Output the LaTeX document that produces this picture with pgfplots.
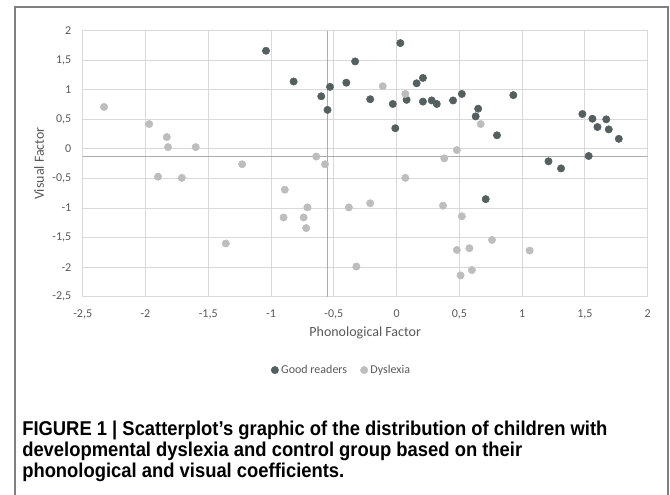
\documentclass[border=0pt]{standalone}
\usepackage{pgfplots}
\pgfplotsset{compat=1.18}
\usepackage{fontspec}
\setmainfont{Carlito}
\newfontfamily\capfont[FakeStretch=0.92]{Liberation Sans}

\definecolor{good}{HTML}{54605F}
\definecolor{dys}{HTML}{BDBDBD}
\definecolor{gridc}{HTML}{D9D9D9}
\definecolor{txt}{HTML}{595959}
\definecolor{meanc}{HTML}{ABABAB}
\definecolor{framec}{HTML}{7F7F7F}

% points
\pgfplotstableread{
x y
-1.04 1.66
-0.82 1.14
-0.53 1.05
-0.60 0.89
-0.55 0.66
-0.33 1.48
-0.40 1.12
0.03 1.79
-0.21 0.84
-0.03 0.76
-0.01 0.35
0.08 0.83
0.16 1.11
0.21 1.20
0.21 0.80
0.28 0.82
0.32 0.76
0.45 0.82
0.52 0.93
0.65 0.68
0.63 0.55
0.93 0.91
0.80 0.23
1.21 -0.21
1.31 -0.33
1.48 0.59
1.56 0.51
1.67 0.50
1.60 0.37
1.69 0.33
1.77 0.17
1.53 -0.12
0.71 -0.85
}\goodreaders

\pgfplotstableread{
x y
-2.33 0.71
-1.97 0.42
-1.83 0.20
-1.82 0.03
-1.60 0.03
-1.90 -0.47
-1.71 -0.49
-1.23 -0.26
-0.64 -0.13
-0.57 -0.26
-0.89 -0.69
-0.90 -1.16
-0.71 -0.99
-0.74 -1.16
-0.72 -1.34
-1.36 -1.60
-0.11 1.06
0.07 0.93
0.67 0.42
0.48 -0.02
0.38 -0.16
0.07 -0.49
-0.38 -0.99
-0.21 -0.92
0.37 -0.96
0.52 -1.14
0.76 -1.54
0.48 -1.71
0.58 -1.68
1.06 -1.72
-0.32 -1.99
0.60 -2.05
0.51 -2.14
}\dyslexia

\begin{document}
\begin{tikzpicture}
\useasboundingbox (0,0) rectangle (502.5pt,-370.5pt);
\draw[framec, line width=0.9pt] (11.25pt,-371pt) -- (11.25pt,-5.25pt) -- (501pt,-5.25pt) -- (501pt,-371pt);
\begin{axis}[
  at={(62pt,-23pt)}, anchor=north west,
  scale only axis, width=423.75pt, height=199.5pt,
  xmin=-2.5, xmax=2, ymin=-2.5, ymax=2,
  xtick distance=0.5, ytick distance=0.5,
  grid=major, major grid style={gridc, line width=0.75pt},
  axis line style={gridc, line width=0.75pt},
  tick style={draw=none},
  ticklabel style={font=\fontsize{9}{10}\selectfont, text=txt},
  xticklabel style={yshift=-6.5pt},
  yticklabel style={xshift=-5pt},
  /pgf/number format/use comma,
  /pgf/number format/assume math mode=true,
  xlabel={Phonological Factor}, ylabel={Visual Factor},
  label style={font=\fontsize{10.5}{12}\selectfont, text=txt},
  xlabel style={at={(axis description cs:0.5,-0.136)}, anchor=center},
  ylabel style={at={(axis description cs:-0.077,0.5)}, anchor=center},
  legend style={at={(0.459,-0.276)}, anchor=center, draw=none, fill=none,
    legend columns=2, font=\fontsize{9}{10}\selectfont, text=txt,
    /tikz/every even column/.append style={column sep=8pt}},
  legend cell align=left,
]
\addplot[meanc, line width=0.75pt, forget plot] coordinates {(-0.55,-2.5) (-0.55,2)};
\addplot[meanc, line width=0.75pt, forget plot] coordinates {(-2.5,-0.125) (2,-0.125)};
\addplot[only marks, mark=*, mark size=2.75pt, mark options={draw=good, fill=good}] table {\goodreaders};
\addlegendentry{Good readers}
\addplot[only marks, mark=*, mark size=2.75pt, mark options={draw=dys, fill=dys}] table {\dyslexia};
\addlegendentry{Dyslexia}
\end{axis}
\node[anchor=north west, align=left, inner sep=0pt,
  font=\capfont\bfseries\fontsize{15}{15.75}\selectfont, text=black]
  at (16.5pt,-315.25pt) {FIGURE 1 | Scatterplot’s graphic of the distribution of children with\\
developmental dyslexia and control group based on their\\
phonological and visual coefficients.};
\end{tikzpicture}
\end{document}
